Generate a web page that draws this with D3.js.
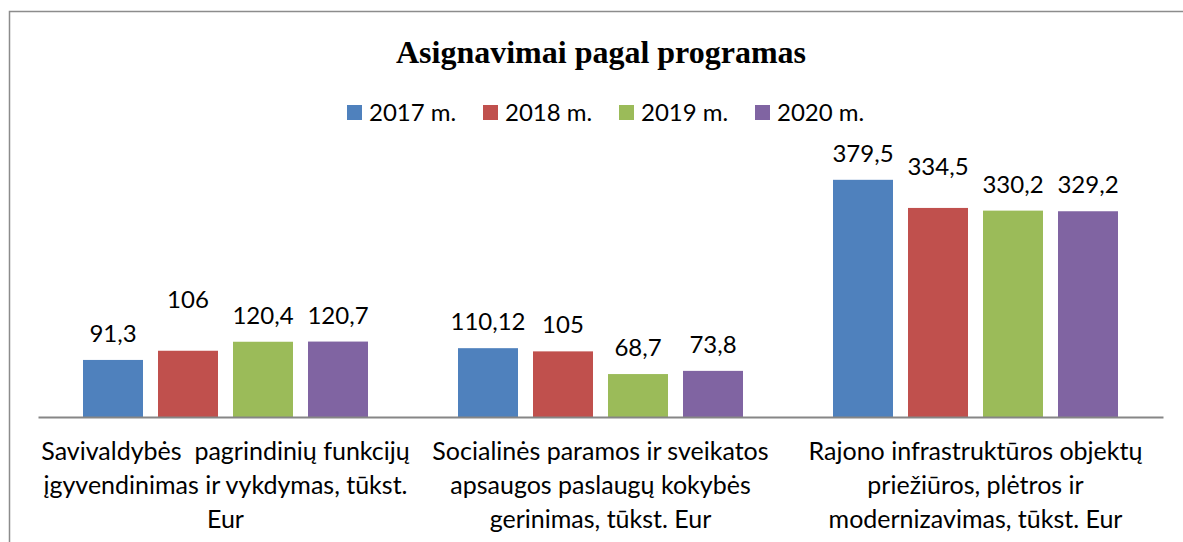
<!DOCTYPE html>
<html>
<head>
<meta charset="utf-8">
<script src="https://cdn.jsdelivr.net/npm/d3@7"></script>
<style>
  body { margin: 0; background: #fff; }
  text { font-family: Lato, "Open Sans", sans-serif; fill: #000; }
</style>
</head>
<body>
<div id="chart"></div>
<script>
// data
const categories = [
  ["Savivaldybės  pagrindinių funkcijų", "įgyvendinimas ir vykdymas, tūkst.", "Eur"],
  ["Socialinės paramos ir sveikatos", "apsaugos paslaugų kokybės", "gerinimas, tūkst. Eur"],
  ["Rajono infrastruktūros objektų", "priežiūros, plėtros ir", "modernizavimas, tūkst. Eur"]
];
const years = ["2017 m.", "2018 m.", "2019 m.", "2020 m."];
const values2017 = [91.3, 110.12, 379.5];
const values2018 = [106, 105, 334.5];
const values2019 = [120.4, 68.7, 330.2];
const values2020 = [120.7, 73.8, 329.2];
const valueLabels = [
  ["91,3", "110,12", "379,5"],
  ["106", "105", "334,5"],
  ["120,4", "68,7", "330,2"],
  ["120,7", "73,8", "329,2"]
];
const colors = ["#4F81BD", "#C0504D", "#9BBB59", "#8064A2"];

// label nudges (px, upward) where the original had labels moved by hand
const labelLift = [[0, 0, 0], [25, 0, 15], [0, 0, 0], [0, 0, 0]];

const series = [values2017, values2018, values2019, values2020];

var WIDTH = 1183, HEIGHT = 542;
var MARGIN = { LEFT: 38, RIGHT: 20, TOP: 167, BOTTOM: 125 };

const svg = d3.select("#chart").append("svg")
  .attr("width", WIDTH)
  .attr("height", HEIGHT);

// outer frame
svg.append("rect")
  .attr("x", 9.5).attr("y", 11.5)
  .attr("width", WIDTH + 20).attr("height", HEIGHT + 20)
  .attr("fill", "none")
  .attr("stroke", "#8c8c8c")
  .attr("stroke-width", 1.5);

const catIdx = d3.range(categories.length);
const x0 = d3.scaleBand().domain(catIdx).range([MARGIN.LEFT, WIDTH - MARGIN.RIGHT]);
const x1 = d3.scaleBand().domain(d3.range(years.length))
  .range([0, x0.bandwidth()]).paddingInner(0.2).paddingOuter(0.6);
const y = d3.scaleLinear().domain([0, 400]).range([HEIGHT - MARGIN.BOTTOM, MARGIN.TOP]);

// title
svg.append("text")
  .attr("x", 601).attr("y", 63)
  .attr("text-anchor", "middle")
  .style("font-family", "'Liberation Serif', 'Times New Roman', serif")
  .style("font-weight", "bold")
  .style("font-size", "32px")
  .text("Asignavimai pagal programas");

// legend
const legend = svg.append("g").attr("transform", "translate(347,105)");
const li = legend.selectAll("g").data(years).enter().append("g")
  .attr("transform", (d, i) => `translate(${i * 136},0)`);
li.append("rect").attr("width", 15).attr("height", 15).attr("fill", (d, i) => colors[i]);
li.append("text").attr("x", 22).attr("y", 16).style("font-size", "24px").text(d => d);

// bars
const groups = svg.selectAll("g.series").data(series).enter().append("g")
  .attr("class", "series")
  .attr("fill", (d, i) => colors[i]);

groups.each(function (vals, s) {
  const g = d3.select(this);
  g.selectAll("rect").data(vals).enter().append("rect")
    .attr("x", (d, c) => x0(c) + x1(s))
    .attr("y", d => y(d))
    .attr("width", x1.bandwidth())
    .attr("height", d => y(0) - y(d));
  g.selectAll("text").data(vals).enter().append("text")
    .attr("x", (d, c) => x0(c) + x1(s) + x1.bandwidth() / 2)
    .attr("y", (d, c) => y(d) - 18 - labelLift[s][c])
    .attr("text-anchor", "middle")
    .style("font-size", "24px")
    .text((d, c) => valueLabels[s][c]);
});

// category axis
const xAxis = svg.append("g")
  .attr("transform", `translate(0,${y(0)})`)
  .call(d3.axisBottom(x0).tickSize(0).tickFormat(""));
xAxis.select(".domain").attr("stroke", "#868686").attr("stroke-width", 2);

const catLabels = svg.append("g").selectAll("text").data(categories).enter().append("text")
  .attr("text-anchor", "middle")
  .style("font-size", "25px")
  .style("white-space", "pre");
catLabels.selectAll("tspan").data((d, i) => d.map(t => ({ t: t, c: i }))).enter().append("tspan")
  .attr("x", d => x0(d.c) + x0.bandwidth() / 2)
  .attr("y", (d, i) => 460 + i * 34)
  .text(d => d.t);
</script>
</body>
</html>
